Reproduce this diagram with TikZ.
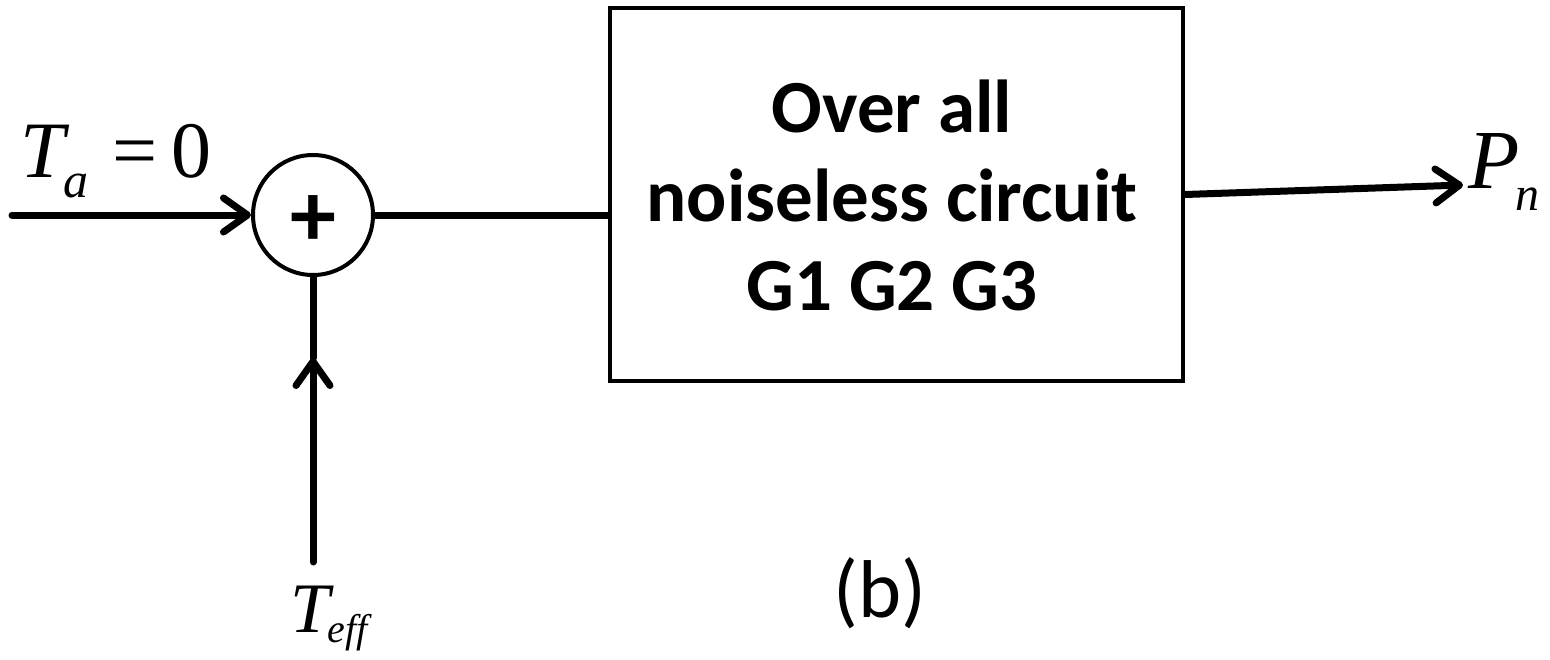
\documentclass[tikz,border=0pt]{standalone}
\usepackage{fontspec}
\setmainfont{Carlito}
\newfontfamily\tms{Liberation Serif}
\usetikzlibrary{arrows.meta}

\tikzset{
  wire/.style={line width=7pt, line cap=round},
  tip/.style={-{Straight Barb[length=24pt,width=34pt,round]}},
  blockbox/.style={draw, line width=4pt, minimum width=573pt, minimum height=373pt, inner sep=0pt},
  sumnode/.style={draw, circle, line width=4pt, minimum size=120pt, inner sep=0pt},
  boxtext/.style={align=center, font=\fontsize{75}{89}\selectfont\bfseries},
  mathlbl/.style={inner sep=0pt, anchor=base west},
}

\begin{document}
\begin{tikzpicture}[x=1pt, y=-1pt]
  \useasboundingbox (0,0) rectangle (1550,659);

  % summing junction and the circuit block
  \node[sumnode] (sum) at (313,215) {};
  \node[inner sep=0pt, font=\fontsize{92}{92}\selectfont\bfseries] (plus) at (313,221) {+};
  \node[blockbox] (blk) at (896.5,194.5) {};
  \node[boxtext] (blktxt) at (892,195) {Over all\\noiseless circuit\\G1 G2 G3};

  % free ends of the signal lines
  \coordinate (inA) at (12,215);
  \coordinate (inE) at (313,562);
  \coordinate (midE) at (313,358);
  \coordinate (outP) at (1463,185);

  % signal lines
  \draw[wire, tip] (inA) -- (sum.west);
  \draw[wire, tip] (inE) -- (midE);
  \draw[wire] (midE) -- (sum.south);
  \draw[wire] (sum.east) -- (sum.east -| blk.west);
  \draw[wire, tip] (blk.east) -- (outP);

  % labels
  \node[mathlbl] (lblTa) at (20,177) {\tms\fontsize{80}{80}\selectfont
    \textit{T}\kern-6pt\raisebox{-20pt}{\fontsize{50}{50}\selectfont\textit{a}}\kern24pt=\kern14pt0};
  \node[mathlbl] (lblTeff) at (290,632) {\tms\fontsize{71}{71}\selectfont
    \textit{T}\kern-6pt\raisebox{-10pt}{\fontsize{40}{40}\selectfont\textit{eff}}};
  \node[mathlbl] (lblPn) at (1468,188) {\tms\fontsize{84}{84}\selectfont
    \textit{P}\kern-4pt\raisebox{-22pt}{\fontsize{48}{48}\selectfont\textit{n}}};
  \node[inner sep=0pt, anchor=base, font=\fontsize{82}{82}\selectfont] (lblb) at (880,617) {(b)};
\end{tikzpicture}
\end{document}
